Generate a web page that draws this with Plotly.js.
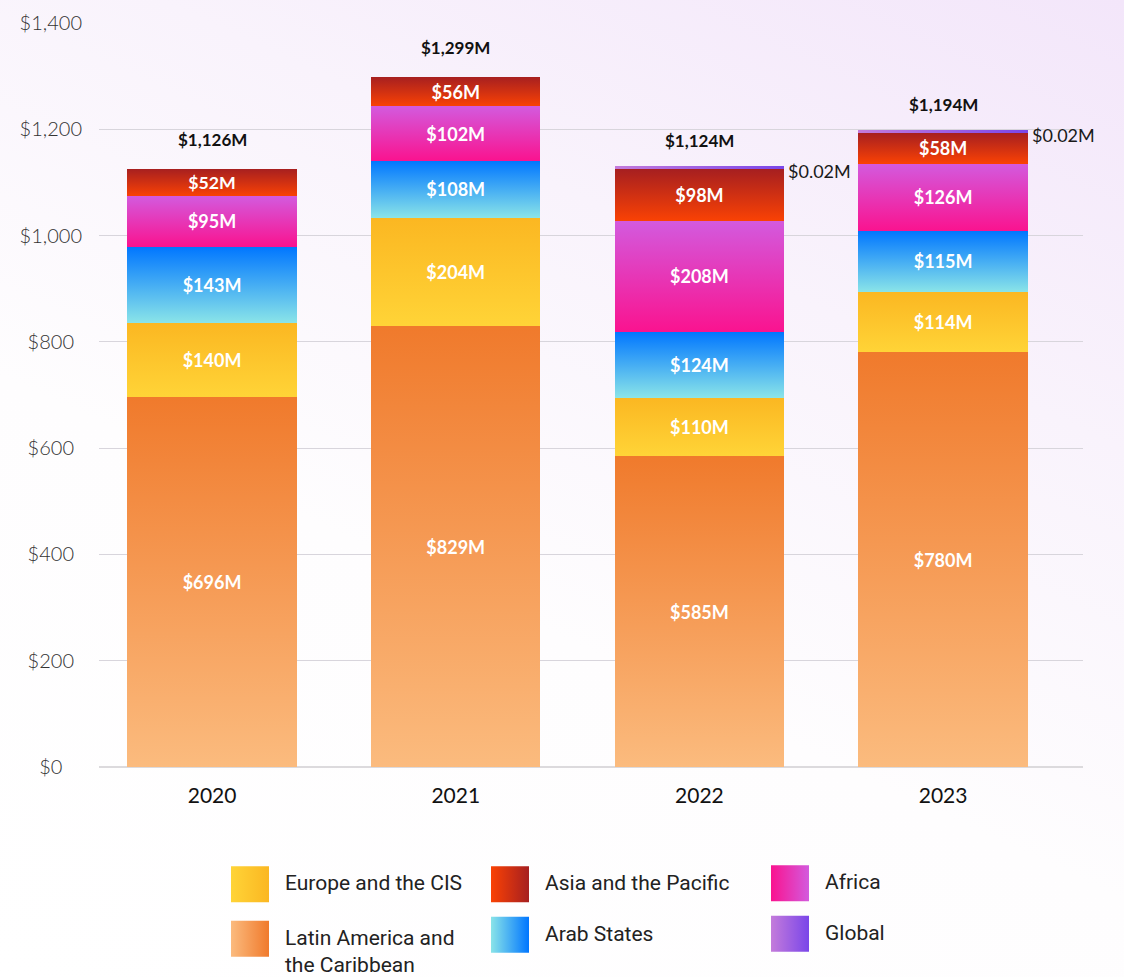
<!DOCTYPE html>
<html>
<head>
<meta charset="utf-8">
<script src="https://cdn.plot.ly/plotly-3.0.1.min.js"></script>
<style>
  html, body { margin: 0; padding: 0; }
  body {
    width: 1124px; height: 977px; overflow: hidden;
    background: linear-gradient(205deg, #f3e6fa 0%, #f9f3fc 30%, #fefdfe 60%, #ffffff 100%);
  }
  #chart { width: 1124px; height: 977px; }
</style>
</head>
<body>
<div id="chart"></div>
<script>
// ---- data ----
const years = ['2020', '2021', '2022', '2023'];
const latinAmerica = [696, 829, 585, 780];
const europeCIS = [140, 204, 110, 114];
const arabStates = [143, 108, 124, 115];
const africa = [95, 102, 208, 126];
const asiaPacific = [52, 56, 98, 58];
const globalFunds = [null, null, 0.02, 0.02];
const totalLabels = ['$1,126M', '$1,299M', '$1,124M', '$1,194M'];
const globalLabels = ['', '', '$0.02M', '$0.02M'];
const yTickVals = [0, 200, 400, 600, 800, 1000, 1200, 1400];
const yTickText = ['$0', '$200', '$400', '$600', '$800', '$1,000', '$1,200', '$1,400'];

// gradient colours: top (bar) / right (legend) and bottom / left
const series = [
  { name: 'Latin America and<br>the Caribbean', y: latinAmerica, top: '#f07a2c', bot: '#fbbb7e', legend: 'legend', rank: 2 },
  { name: 'Europe and the CIS', y: europeCIS, top: '#fbb722', bot: '#ffd437', legend: 'legend', rank: 1 },
  { name: 'Arab States', y: arabStates, top: '#0076ff', bot: '#8ae4e8', legend: 'legend2', rank: 4 },
  { name: 'Africa', y: africa, top: '#d35ade', bot: '#fa138f', legend: 'legend3', rank: 6 },
  { name: 'Asia and the Pacific', y: asiaPacific, top: '#a61f20', bot: '#fa4204', legend: 'legend2', rank: 3 },
  { name: 'Global', y: globalFunds, top: '#7a46e9', bot: '#c47bdb', legend: 'legend3', rank: 7 }
];

const FONT = 'Lato, "Open Sans", sans-serif';
const LEGEND_FONT = 'Roboto, "Liberation Sans", sans-serif';

const traces = series.map((s, i) => ({
  type: 'bar',
  name: s.name,
  x: years,
  y: s.y,
  marker: { color: s.top, line: { width: 0 } },
  texttemplate: i === 5 ? '' : '$%{y:,.0f}M',
  textposition: i === 5 ? 'none' : 'inside',
  insidetextanchor: 'middle',
  textangle: 0,
  insidetextfont: { family: FONT, size: 18, color: '#ffffff', weight: 700 },
  hoverinfo: 'skip',
  legend: s.legend,
  legendgroup: 'g' + i,
  legendrank: s.rank
}));

// stack tops for annotations
const stackTop = years.map((_, j) => series.reduce((a, s) => a + (s.y[j] || 0), 0));

const annotations = [];
years.forEach((yr, j) => {
  annotations.push({
    x: j, y: stackTop[j], xref: 'x', yref: 'y',
    text: totalLabels[j], showarrow: false, yanchor: 'middle', yshift: 29,
    font: { family: FONT, size: 17, color: '#111111', weight: 700 }
  });
  if (globalLabels[j]) {
    annotations.push({
      x: j, y: stackTop[j], xref: 'x', yref: 'y',
      text: globalLabels[j], showarrow: false, xanchor: 'left', yanchor: 'middle',
      xshift: 87, yshift: -2,
      font: { family: FONT, size: 18, color: '#1a1a1a' }
    });
  }
});

const legendBase = {
  orientation: 'v', xref: 'container', yref: 'container', xanchor: 'left', yanchor: 'top',
  bgcolor: 'rgba(0,0,0,0)', borderwidth: 0, traceorder: 'grouped', valign: 'top', itemwidth: 60,
  font: { family: LEGEND_FONT, size: 21, color: '#222222' }, itemclick: false, itemdoubleclick: false
};

const layout = {
  width: 1124, height: 977,
  margin: { l: 99, r: 41, t: 23, b: 210, autoexpand: false },
  paper_bgcolor: 'rgba(0,0,0,0)',
  plot_bgcolor: 'rgba(0,0,0,0)',
  barmode: 'stack',
  bargap: 0.305,
  font: { family: FONT, color: '#222222' },
  xaxis: {
    type: 'category', range: [-0.464, 3.574], showgrid: false, zeroline: false, showline: false,
    ticks: '', ticklabelstandoff: 14, tickangle: 0, automargin: false,
    tickfont: { family: FONT, size: 21, color: '#111111' }, fixedrange: true
  },
  yaxis: {
    range: [0, 1400], tickvals: yTickVals, ticktext: yTickText, automargin: false,
    showgrid: true, gridcolor: '#d8d5dc', gridwidth: 1,
    zeroline: true, zerolinecolor: '#dcdadd', zerolinewidth: 2,
    showline: false, ticks: '', ticklabelstandoff: 16,
    tickfont: { family: FONT, size: 20, color: '#333333', weight: 300 }, fixedrange: true
  },
  showlegend: true,
  legend: Object.assign({}, legendBase, { x: 215 / 1124, y: 1 - 862 / 977, tracegroupgap: 24 }),
  legend2: Object.assign({}, legendBase, { x: 475 / 1124, y: 1 - 862 / 977, tracegroupgap: 20 }),
  legend3: Object.assign({}, legendBase, { x: 755 / 1124, y: 1 - 861 / 977, tracegroupgap: 20 }),
  annotations: annotations
};

const NS = 'http://www.w3.org/2000/svg';
function addGrad(defs, id, c1, c2, horizontal) {
  if (defs.querySelector('#' + id)) return;
  const g = document.createElementNS(NS, 'linearGradient');
  g.setAttribute('id', id);
  g.setAttribute('x1', '0'); g.setAttribute('y1', '0');
  g.setAttribute('x2', horizontal ? '1' : '0'); g.setAttribute('y2', horizontal ? '0' : '1');
  [[0, c1], [1, c2]].forEach(([o, c]) => {
    const st = document.createElementNS(NS, 'stop');
    st.setAttribute('offset', String(o));
    st.setAttribute('stop-color', c);
    g.appendChild(st);
  });
  defs.appendChild(g);
}

function traceIndex(el) {
  const d = el.__data__;
  if (d && d[0] && d[0].trace) return d[0].trace.index;
  return null;
}

function idxFromText(str) {
  const clean = str.replace(/\s+/g, '');
  for (let i = 0; i < series.length; i++) {
    const n = series[i].name.replace(/<br>/g, '').replace(/\s+/g, '');
    if (n === clean) return i;
  }
  return null;
}

function post(gd) {
  const svg = gd.querySelector('svg.main-svg');
  let defs = svg.querySelector('defs');
  if (!defs) { defs = document.createElementNS(NS, 'defs'); svg.insertBefore(defs, svg.firstChild); }
  series.forEach((s, i) => {
    addGrad(defs, 'gv' + i, s.top, s.bot, false);
    addGrad(defs, 'gh' + i, s.bot, s.top, true);
  });
  // bars
  gd.querySelectorAll('.barlayer .trace').forEach((t) => {
    const idx = traceIndex(t);
    if (idx === null) return;
    t.querySelectorAll('path').forEach(p => {
      if (idx === 5) {
        if (p.getAttribute('data-done')) return;
        const b = p.getBBox();
        if (b.width > 0) {
          p.setAttribute('d', `M${b.x},${b.y + b.height - 3}h${b.width}v3h${-b.width}Z`);
          p.style.fill = 'url(#gh5)';
          p.setAttribute('data-done', '1');
        }
      } else {
        p.style.fill = `url(#gv${idx})`;
      }
    });
  });
  // legend swatches: pair every legend text with the symbol path at its left
  const texts = Array.from(gd.querySelectorAll('g.traces text'));
  const paths = Array.from(gd.querySelectorAll('.legendpoints path')).filter(p => !p.getAttribute('data-done'));
  const pathInfo = paths.map(p => ({ p, r: p.getBoundingClientRect() }));
  texts.forEach(txt => {
    const idx = idxFromText(txt.textContent);
    if (idx === null) return;
    const tr = txt.getBoundingClientRect();
    const firstLine = txt.querySelector('tspan') || txt;
    const fr = firstLine.getBoundingClientRect();
    const fcy = fr.top + fr.height / 2;
    let best = null, bestD = 1e9;
    pathInfo.forEach(pi => {
      if (pi.used) return;
      const cx = pi.r.left + pi.r.width / 2, cy = pi.r.top + pi.r.height / 2;
      if (cx > tr.left) return;
      const d = Math.abs(cy - fcy) * 3 + (tr.left - cx);
      if (d < bestD) { bestD = d; best = pi; }
    });
    if (!best) return;
    best.used = true;
    const p = best.p;
    const lb = p.getBBox();
    const sr = best.r;
    const desiredCx = tr.left - 16 - 19;
    const desiredCy = fcy + 1;
    const lcx = lb.x + lb.width / 2 + (desiredCx - (sr.left + sr.width / 2));
    const lcy = lb.y + lb.height / 2 + (desiredCy - (sr.top + sr.height / 2));
    p.setAttribute('d', `M${lcx - 19},${lcy - 18}h38v36h-38Z`);
    p.style.fill = `url(#gh${idx})`;
    p.style.strokeWidth = '0';
    p.setAttribute('data-done', '1');
  });
  // center y tick labels
  const ticks = Array.from(gd.querySelectorAll('.yaxislayer-above text')).filter(t => !t.getAttribute('data-done'));
  if (ticks.length) {
    const ws = ticks.map(t => t.getBBox().width);
    const maxW = Math.max(...ws);
    ticks.forEach((t, k) => {
      const x = parseFloat(t.getAttribute('x') || '0');
      t.setAttribute('x', String(x - (maxW - ws[k]) / 2));
      t.setAttribute('data-done', '1');
    });
  }
}

Plotly.newPlot('chart', traces, layout, { staticPlot: true, displayModeBar: false }).then(gd => {
  try { post(gd); } catch (e) { console.error(e); }
  setTimeout(() => { try { post(gd); } catch (e) { console.error(e); } }, 150);
});
</script>
</body>
</html>
